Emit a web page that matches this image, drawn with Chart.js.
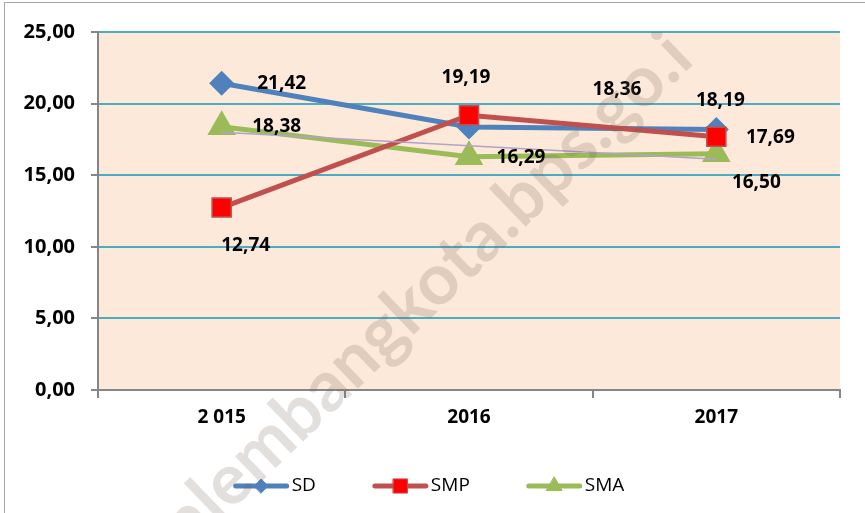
<!DOCTYPE html>
<html>
<head>
<meta charset="utf-8">
<script src="https://cdn.jsdelivr.net/npm/chart.js@4.4.1/dist/chart.umd.min.js"></script>
<style>
html, body { margin: 0; padding: 0; background: #fff; }
</style>
</head>
<body>
<canvas id="chart" width="865" height="513"></canvas>
<script>
const years = ['2 015', '2016', '2017'];
const sdValues = [21.42, 18.36, 18.19];
const smpValues = [12.74, 19.19, 17.69];
const smaValues = [18.38, 16.29, 16.50];
// thin linear trendline on SMA, ends
const smaTrend = [18.00, null, 16.12];

// where each value label sits relative to its point (px)
const sdLabelOffsets = [[60, 0], [148, -37], [4, -29]];
const smpLabelOffsets = [[24, 38], [-3, -38], [54, 1]];
const smaLabelOffsets = [[55, 0], [52, 1], [40, 29]];

const fmt = v => v.toFixed(2).replace('.', ',');
const FONT = '"Open Sans"';

const chartBackground = {
    id: 'chartBackground',
    beforeDraw(chart) {
        const { ctx, chartArea: a } = chart;
        ctx.save();
        ctx.fillStyle = '#ffffff';
        ctx.fillRect(0, 0, chart.width, chart.height);
        ctx.strokeStyle = '#a6a6a6';
        ctx.lineWidth = 1;
        ctx.strokeRect(4.5, 2.5, chart.width + 20, chart.height + 20);
        ctx.fillStyle = '#fde9d9';
        ctx.fillRect(a.left, a.top, a.right - a.left, a.bottom - a.top);
        ctx.restore();
    }
};

const valueLabels = {
    id: 'valueLabels',
    afterDatasetsDraw(chart) {
        const ctx = chart.ctx;
        ctx.save();
        ctx.font = 'bold 19px ' + FONT;
        ctx.fillStyle = '#000';
        ctx.textAlign = 'center';
        ctx.textBaseline = 'middle';
        chart.data.datasets.forEach((ds, i) => {
            if (!ds.labelOffsets) return;
            chart.getDatasetMeta(i).data.forEach((pt, j) => {
                const [dx, dy] = ds.labelOffsets[j];
                ctx.fillText(fmt(ds.data[j]), pt.x + dx, pt.y + dy);
            });
        });
        ctx.restore();
    }
};

const customLegend = {
    id: 'customLegend',
    afterDraw(chart) {
        const ctx = chart.ctx;
        const items = [
            { text: 'SD', color: '#4f81bd', fill: '#4f81bd', style: 'rectRot', r: 7 },
            { text: 'SMP', color: '#c0504d', fill: '#ff0000', style: 'rect', r: 10 },
            { text: 'SMA', color: '#9bbb59', fill: '#9bbb59', style: 'triangle', r: 9 }
        ];
        const sample = 55, gap = 3, spacing = 57, y = 486;
        ctx.save();
        ctx.font = '19px ' + FONT;
        const widths = items.map(it => sample + gap + ctx.measureText(it.text).width);
        const total = widths.reduce((s, w) => s + w, 0) + spacing * (items.length - 1);
        let x = 429 - total / 2;
        items.forEach((it, i) => {
            ctx.strokeStyle = it.color;
            ctx.lineWidth = 5;
            ctx.lineCap = 'round';
            ctx.beginPath();
            ctx.moveTo(x + 2, y);
            ctx.lineTo(x + sample - 2, y);
            ctx.stroke();
            ctx.fillStyle = it.fill;
            ctx.strokeStyle = it.color;
            ctx.lineWidth = 1;
            Chart.helpers.drawPoint(ctx, { pointStyle: it.style, radius: it.r, rotation: 0, borderWidth: 1 }, x + sample / 2, y);
            ctx.fillStyle = '#000';
            ctx.textAlign = 'left';
            ctx.textBaseline = 'middle';
            ctx.fillText(it.text, x + sample + gap, y);
            x += widths[i] + spacing;
        });
        ctx.restore();
    }
};

// faint diagonal site stamp, cut off at the top of the plot like the original
const watermark = {
    id: 'watermark',
    afterDraw(chart) {
        const ctx = chart.ctx;
        ctx.save();
        ctx.beginPath();
        ctx.rect(0, chart.chartArea.top, chart.width, chart.height);
        ctx.clip();
        ctx.translate(696, 62);
        ctx.rotate(-44 * Math.PI / 180);
        ctx.font = 'bold 71px Lato';
        ctx.fillStyle = 'rgba(115, 95, 85, 0.2)';
        ctx.textAlign = 'right';
        ctx.textBaseline = 'alphabetic';
        ctx.fillText('palembangkota.bps.go.i', 0, 0);
        ctx.restore();
    }
};

new Chart(document.getElementById('chart'), {
    type: 'line',
    data: {
        labels: years,
        datasets: [{
            label: 'Trend SMA',
            data: smaTrend,
            borderColor: '#b3a2c7',
            borderWidth: 1.5,
            pointRadius: 0,
            spanGaps: true
        }, {
            label: 'SMP',
            data: smpValues,
            labelOffsets: smpLabelOffsets,
            borderColor: '#c0504d',
            borderWidth: 5,
            pointStyle: 'rect',
            pointRadius: 13.5,
            pointBackgroundColor: '#ff0000',
            pointBorderColor: '#c0504d',
            pointBorderWidth: 1.5
        }, {
            label: 'SD',
            data: sdValues,
            labelOffsets: sdLabelOffsets,
            borderColor: '#4f81bd',
            borderWidth: 5,
            pointStyle: 'rectRot',
            pointRadius: 9,
            pointBackgroundColor: '#4f81bd',
            pointBorderColor: '#4f81bd'
        }, {
            label: 'SMA',
            data: smaValues,
            labelOffsets: smaLabelOffsets,
            borderColor: '#9bbb59',
            borderWidth: 5,
            pointStyle: 'triangle',
            pointRadius: 11.5,
            pointBackgroundColor: '#9bbb59',
            pointBorderColor: '#9bbb59'
        }]
    },
    options: {
        responsive: false,
        animation: false,
        layout: { padding: { left: 0, right: 25, top: 32, bottom: 81 } },
        plugins: {
            legend: { display: false },
            tooltip: { enabled: false }
        },
        scales: {
            x: {
                offset: true,
                afterFit: s => { s.height = 42; },
                grid: { drawOnChartArea: false, offset: true, tickLength: 8, color: '#868686', lineWidth: 2 },
                border: { color: '#868686', width: 2 },
                ticks: { color: '#000', padding: 8, font: { family: FONT, size: 19, weight: 'bold' } }
            },
            y: {
                min: 0,
                max: 25,
                afterFit: s => { s.width = 98; },
                grid: {
                    color: c => c.tick && c.tick.value === 0 ? '#868686' : '#4bacc6',
                    tickColor: '#868686',
                    lineWidth: 2,
                    tickLength: 7
                },
                border: { color: '#868686', width: 2 },
                ticks: {
                    stepSize: 5,
                    color: '#000',
                    padding: 16,
                    font: { family: FONT, size: 20, weight: 'bold' },
                    callback: v => fmt(v)
                }
            }
        }
    },
    plugins: [chartBackground, valueLabels, customLegend, watermark]
});
</script>
</body>
</html>
